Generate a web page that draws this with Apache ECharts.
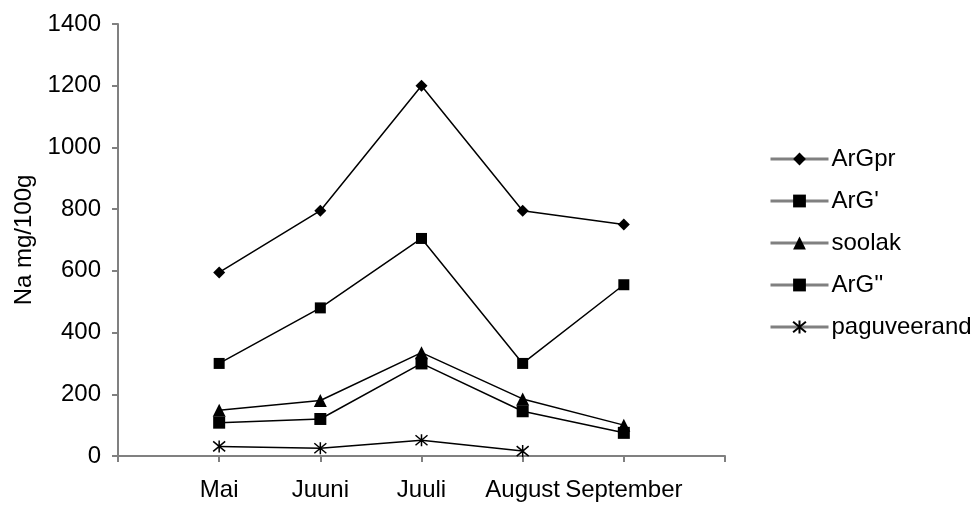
<!DOCTYPE html>
<html>
<head>
<meta charset="utf-8">
<script src="https://cdn.jsdelivr.net/npm/echarts@6/dist/echarts.min.js"></script>
<style>
html,body{margin:0;padding:0;background:#fff;}
#chart{width:974px;height:506px;}
</style>
</head>
<body>
<div id="chart"></div>
<script>
var categories = ['Mai', 'Juuni', 'Juuli', 'August', 'September'];
var seriesNames = ['ArGpr', "ArG'", 'soolak', "ArG''", 'paguveerand'];
var ArGpr = [595, 795, 1200, 795, 750];
var ArG1 = [300, 480, 705, 300, 555];
var soolak = [148, 180, 335, 185, 100];
var ArG2 = [108, 120, 300, 145, 75];
var paguveerand = [31, 25, 51, 16, null];
var yTicks = [0, 200, 400, 600, 800, 1000, 1200, 1400];

var FONT = 'Liberation Sans, Arial, sans-serif';
var asterisk = 'path://M0,-6 L0,6 M-5,-5 L5,5 M5,-5 L-5,5';

function pad(arr) { return [null].concat(arr).concat([null]); }

var symbols = ['diamond', 'rect', 'triangle', 'rect', asterisk];
var sizes = [12, 11, 13, 12, 12];
var values = [ArGpr, ArG1, soolak, ArG2, paguveerand];

var series = seriesNames.map(function (name, i) {
  return {
    name: name,
    type: 'line',
    data: pad(values[i]),
    symbol: symbols[i],
    symbolSize: sizes[i],
    showAllSymbol: true,
    connectNulls: false,
    animation: false,
    lineStyle: { color: '#000', width: 1.5 },
    itemStyle: { color: '#000', borderColor: '#000', borderWidth: i === 4 ? 1.5 : 0 },
    emphasis: { disabled: true }
  };
});

var chart = echarts.init(document.getElementById('chart'));
chart.setOption({
  animation: false,
  backgroundColor: '#fff',
  grid: { left: 118, right: 249, top: 24, bottom: 50, containLabel: false },
  legend: {
    orient: 'vertical',
    left: 764,
    top: 142,
    itemWidth: 58,
    itemHeight: 16,
    itemGap: 18,
    data: seriesNames,
    textStyle: { fontFamily: FONT, fontSize: 24, color: '#000', lineHeight: 24, padding: [0, 0, 0, -2] },
    lineStyle: { color: '#808080', width: 3 }
  },
  xAxis: {
    type: 'category',
    boundaryGap: false,
    data: [''].concat(categories).concat(['']),
    axisLine: { lineStyle: { color: '#808080', width: 2 } },
    axisTick: { show: true, length: 6, interval: 0, lineStyle: { color: '#808080', width: 2 } },
    axisLabel: { interval: 0, margin: 22, fontFamily: FONT, fontSize: 24, color: '#000' },
    splitLine: { show: false }
  },
  yAxis: {
    type: 'value',
    min: yTicks[0],
    max: yTicks[yTicks.length - 1],
    interval: yTicks[1] - yTicks[0],
    name: 'Na mg/100g',
    nameLocation: 'middle',
    nameGap: 82,
    nameTextStyle: { fontFamily: FONT, fontSize: 24, color: '#000' },
    axisLine: { show: true, lineStyle: { color: '#808080', width: 2 } },
    axisTick: { show: true, length: 6, lineStyle: { color: '#808080', width: 2 } },
    axisLabel: { margin: 17, fontFamily: FONT, fontSize: 24, color: '#000',
      formatter: function (v) { return String(v); } },
    splitLine: { show: false }
  },
  series: series
});
</script>
</body>
</html>
